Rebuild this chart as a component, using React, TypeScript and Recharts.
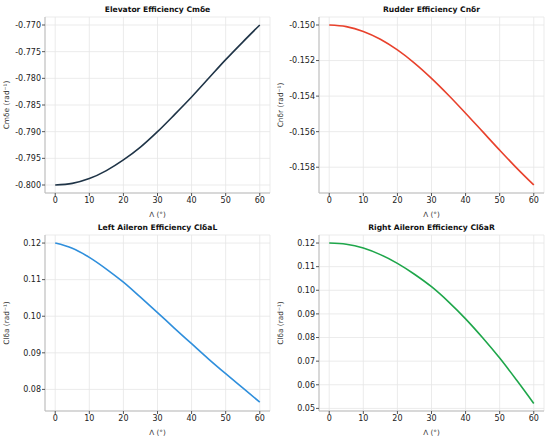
import { LineChart, Line, XAxis, YAxis, CartesianGrid } from 'recharts';

const SWEEP = [0, 5, 10, 15, 20, 25, 30, 35, 40, 45, 50, 55, 60];
const CM_DE = [-0.8, -0.7997, -0.7988, -0.7973, -0.7953, -0.7929, -0.79, -0.7868, -0.7835, -0.78, -0.7765, -0.7732, -0.77];
const CN_DR = [-0.15, -0.15009, -0.15036, -0.1508, -0.1514, -0.15214, -0.153, -0.15395, -0.15496, -0.156, -0.15704, -0.15805, -0.159];
const CL_DAL = [0.12, 0.1186, 0.1161, 0.1129, 0.1093, 0.1052, 0.101, 0.0967, 0.0925, 0.0883, 0.0843, 0.0804, 0.0765];
const CL_DAR = [0.12, 0.1195, 0.1179, 0.1151, 0.1114, 0.1068, 0.1015, 0.0951, 0.0879, 0.0799, 0.0713, 0.0619, 0.0521];

const X_TICKS = [0, 10, 20, 30, 40, 50, 60];
const CM_TICKS = [-0.8, -0.795, -0.79, -0.785, -0.78, -0.775, -0.77];
const CN_TICKS = [-0.158, -0.156, -0.154, -0.152, -0.15];
const CLL_TICKS = [0.08, 0.09, 0.1, 0.11, 0.12];
const CLR_TICKS = [0.05, 0.06, 0.07, 0.08, 0.09, 0.1, 0.11, 0.12];

const FONT = '"DejaVu Sans", sans-serif';

interface PanelProps {
  title: string;
  yLabel: string;
  values: number[];
  color: string;
  domain: [number, number];
  ticks: number[];
  digits: number;
  left: number;
  top: number;
  marginLeft: number;
}

function Panel({ title, yLabel, values, color, domain, ticks, digits, left, top, marginLeft }: PanelProps) {
  const data = SWEEP.map((s, i) => ({ s, v: values[i] }));
  return (
    <div style={{ position: 'absolute', left, top, width: 275, height: 220 }}>
      <div
        style={{
          position: 'absolute',
          left: marginLeft,
          width: 225,
          top: 5,
          textAlign: 'center',
          fontFamily: FONT,
          fontWeight: 'bold',
          fontSize: 7.6,
          color: '#111',
        }}
      >
        {title}
      </div>
      <LineChart width={275} height={220} data={data} margin={{ top: 17, right: 275 - marginLeft - 225, left: marginLeft - 45, bottom: 0 }}>
        <CartesianGrid stroke="#e6e6e6" strokeWidth={0.8} />
        <XAxis
          dataKey="s"
          type="number"
          domain={[-3, 63]}
          ticks={X_TICKS}
          allowDataOverflow
          height={27}
          tick={{ fontSize: 8, fill: '#222', fontFamily: FONT }}
          tickSize={3}
          tickMargin={1}
          axisLine={{ stroke: '#bbb' }}
          tickLine={{ stroke: '#555' }}
          label={{ value: 'Λ (°)', position: 'insideBottom', offset: 3, fontSize: 7.2, fill: '#333', fontFamily: FONT }}
        />
        <YAxis
          type="number"
          domain={domain}
          ticks={ticks}
          allowDataOverflow
          width={45}
          tickFormatter={(v: number) => v.toFixed(digits)}
          tick={{ fontSize: 8, fill: '#222', fontFamily: FONT }}
          tickSize={3}
          tickMargin={1}
          axisLine={{ stroke: '#bbb' }}
          tickLine={{ stroke: '#555' }}
          label={{ value: yLabel, angle: -90, position: 'insideLeft', offset: 6, style: { textAnchor: 'middle' }, fontSize: 7.4, fill: '#333', fontFamily: FONT }}
        />
        <Line type="monotone" dataKey="v" stroke={color} strokeWidth={1.6} dot={false} isAnimationActive={false} />
      </LineChart>
    </div>
  );
}

export default function App() {
  return (
    <div style={{ position: 'absolute', left: 0, top: 0, width: 550, height: 440, background: '#fff' }}>
      <Panel title="Elevator Efficiency Cmδe" yLabel="Cmδe (rad⁻¹)" values={CM_DE} color="#1f3447" domain={[-0.8015, -0.7685]} ticks={CM_TICKS} digits={3} left={0} top={0} marginLeft={45} />
      <Panel title="Rudder Efficiency Cnδr" yLabel="Cnδr (rad⁻¹)" values={CN_DR} color="#e8412c" domain={[-0.15945, -0.14955]} ticks={CN_TICKS} digits={3} left={275} top={0} marginLeft={44} />
      <Panel title="Left Aileron Efficiency ClδaL" yLabel="Clδa (rad⁻¹)" values={CL_DAL} color="#2f8fdc" domain={[0.0741, 0.1222]} ticks={CLL_TICKS} digits={2} left={0} top={218} marginLeft={45} />
      <Panel title="Right Aileron Efficiency ClδaR" yLabel="Clδa (rad⁻¹)" values={CL_DAR} color="#1ea64a" domain={[0.0489, 0.1234]} ticks={CLR_TICKS} digits={2} left={275} top={218} marginLeft={44} />
    </div>
  );
}
